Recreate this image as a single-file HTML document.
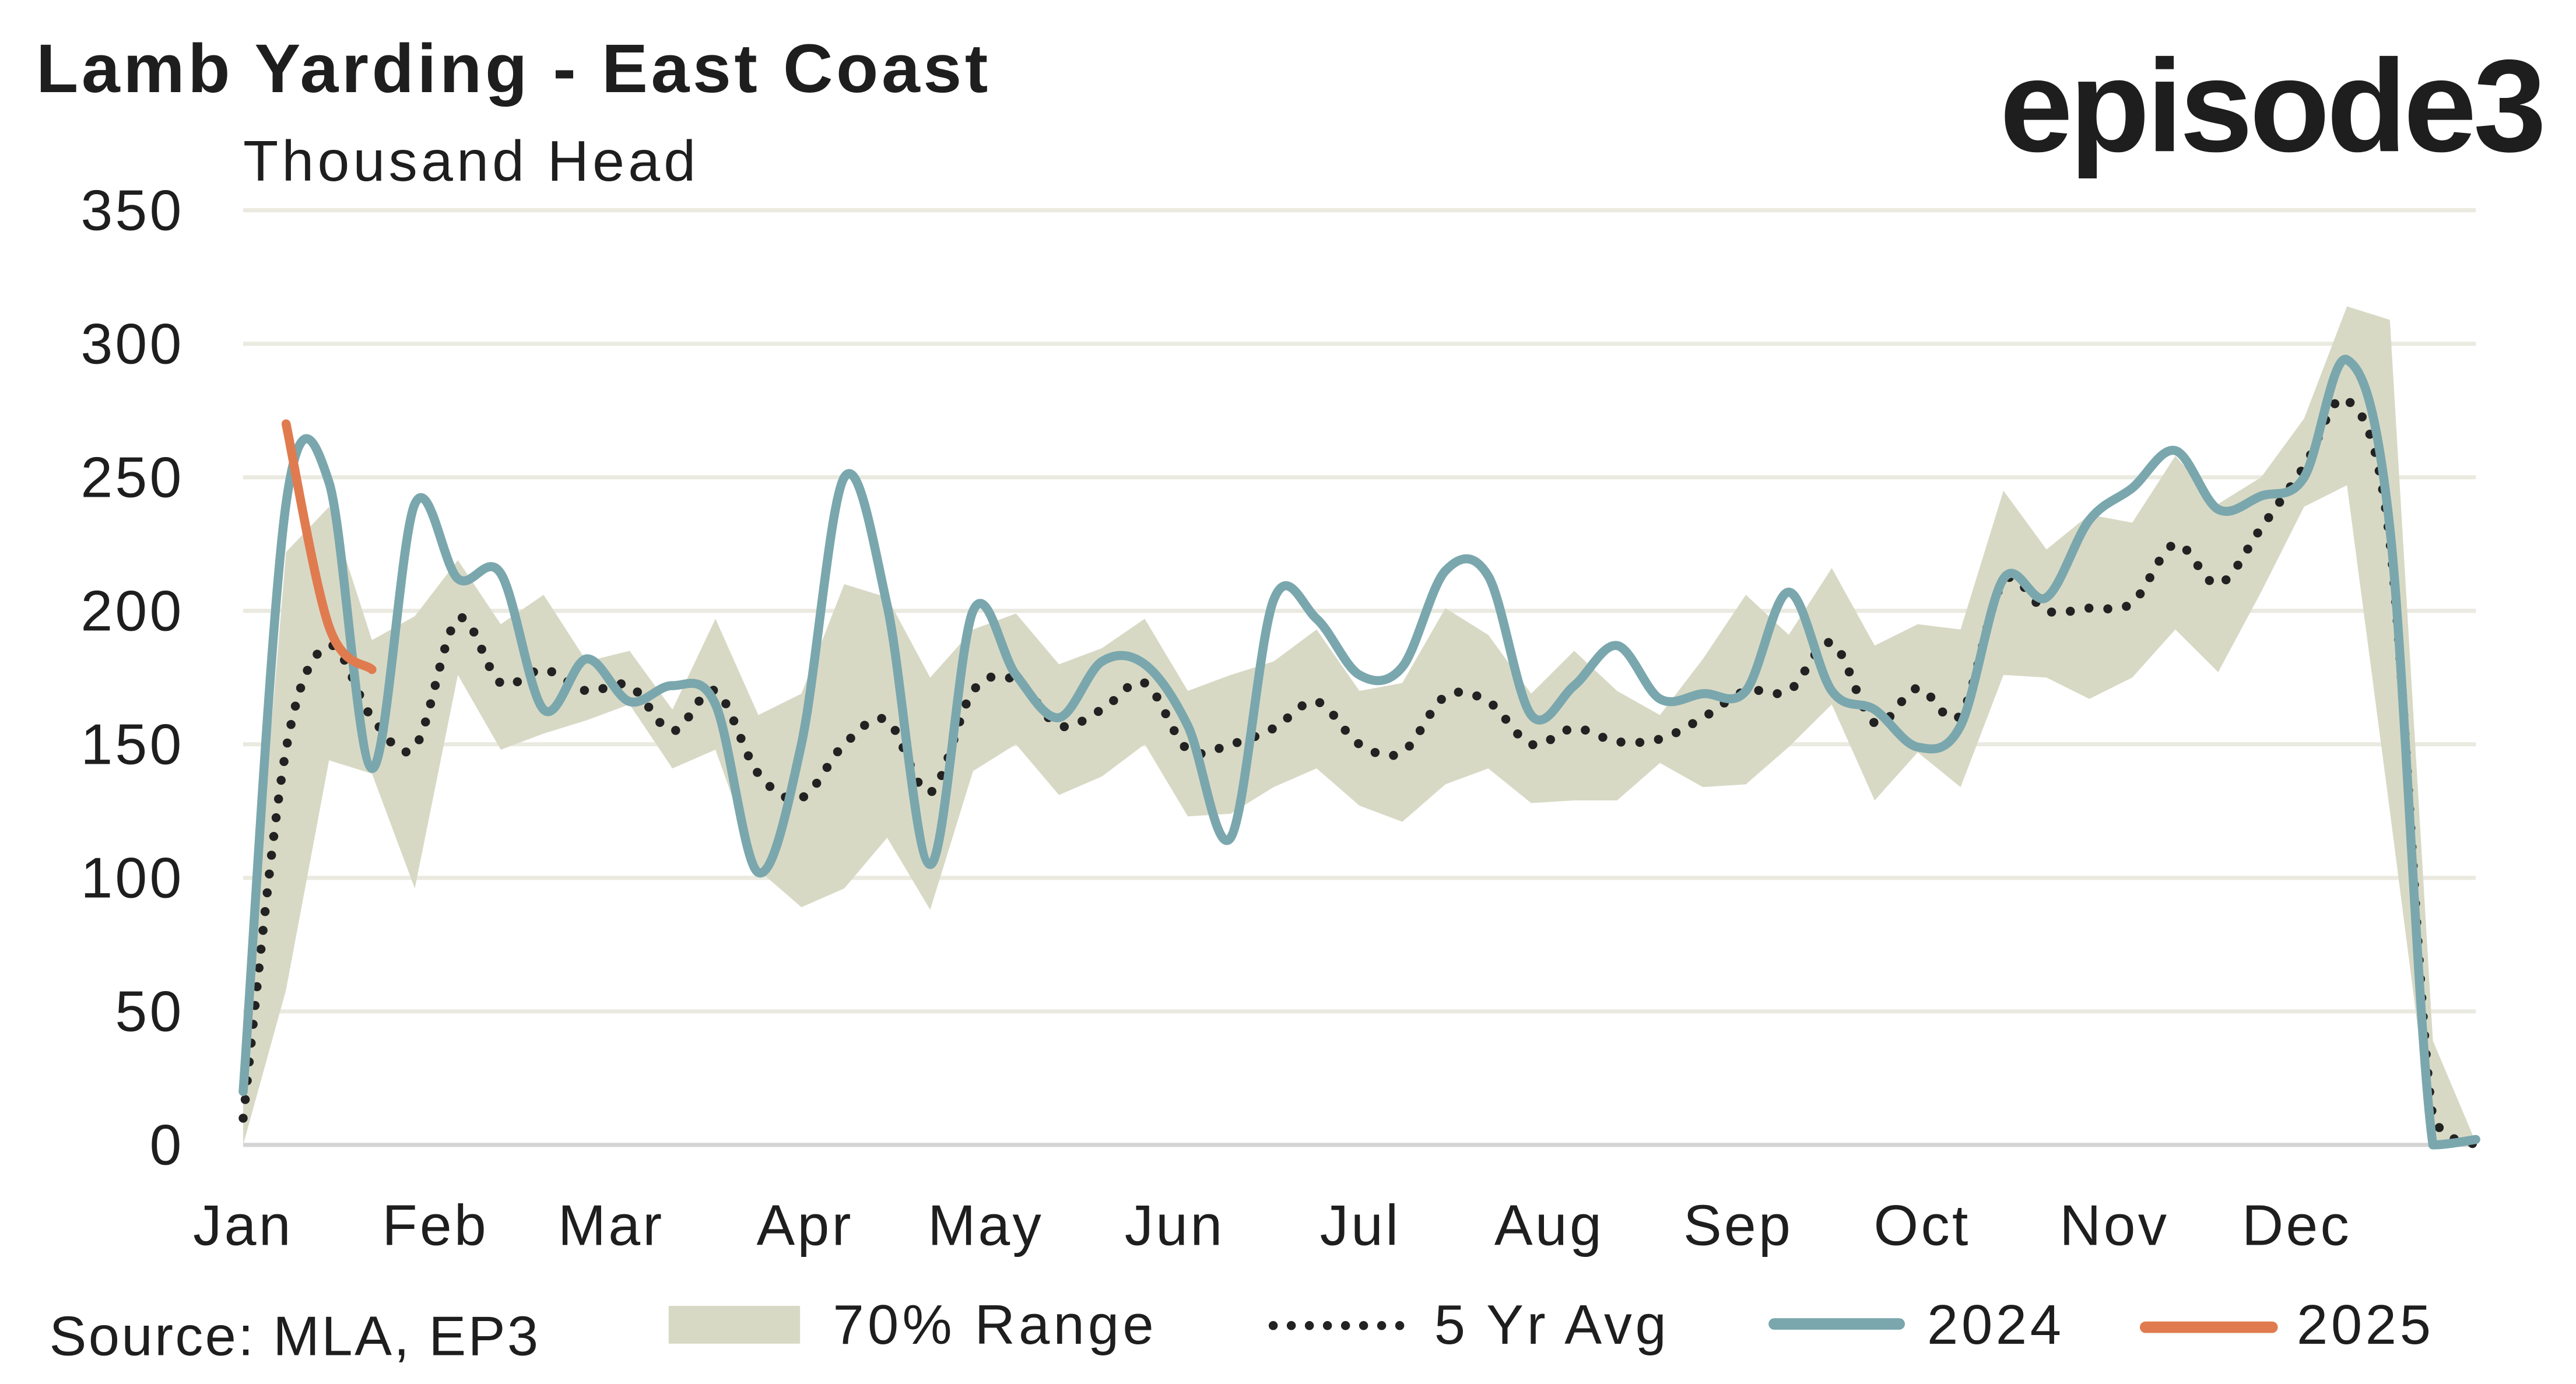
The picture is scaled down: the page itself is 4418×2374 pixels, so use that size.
<!DOCTYPE html>
<html><head><meta charset="utf-8">
<style>
html,body{margin:0;padding:0;background:#fff;}
svg{display:block;}
text{font-family:"Liberation Sans",sans-serif;fill:#1e1e1e;}
</style></head>
<body>
<svg id="chart" width="4418" height="2374" viewBox="0 0 1568 842.56" xmlns="http://www.w3.org/2000/svg">
<text x="22" y="56" font-size="42" font-weight="bold" letter-spacing="2">Lamb Yarding - East Coast</text>
<text x="1548" y="92" font-size="80" font-weight="bold" text-anchor="end" letter-spacing="-2">episode3</text>
<text x="148" y="110" font-size="35" letter-spacing="2.2">Thousand Head</text>
<g id="grid"></g>
<g id="ylabels"></g>
<g id="xlabels"></g>
<g id="series"></g>
<g>
<text x="30" y="825" font-size="34" letter-spacing="1.2">Source: MLA, EP3</text>
<rect x="407" y="795" width="80" height="23" fill="#d8d9c5"/>
<text x="507" y="818" font-size="34" letter-spacing="2.2">70% Range</text>
<line x1="775" y1="807" x2="853" y2="807" stroke="#222" stroke-width="5.5" stroke-linecap="round" stroke-dasharray="0 11"/>
<text x="873" y="818" font-size="34" letter-spacing="2">5 Yr Avg</text>
<line x1="1080" y1="806" x2="1156" y2="806" stroke="#7aa7ad" stroke-width="7" stroke-linecap="round"/>
<text x="1173" y="818" font-size="34" letter-spacing="2">2024</text>
<line x1="1306" y1="808" x2="1383" y2="808" stroke="#e07b50" stroke-width="7" stroke-linecap="round"/>
<text x="1398" y="818" font-size="34" letter-spacing="2">2025</text>
</g>
</svg>
<script>
const months = ["Jan","Feb","Mar","Apr","May","Jun","Jul","Aug","Sep","Oct","Nov","Dec"];
const monthX = [148,265,372,490,600,715,828,943,1058,1170,1287,1398];
const yTicks = [0,50,100,150,200,250,300,350];
const rangeUpper = [30,222,239,189,198,219,195,206,181,185,163,197,161,169,210,205,175,193,199,180,186,197,170,176,181,193,170,173,201,191,169,185,170,161,182,206,191,216,187,195,193,245,223,236,233,258,240,250,272,314,309,39,1];
const rangeLower = [0,58,144,139,96,176,148,154,159,165,141,148,103,89,96,115,88,140,150,131,138,150,123,124,134,141,127,121,135,141,128,129,129,143,134,135,149,165,129,147,134,176,175,167,175,193,177,207,239,247,125,0,0];
const avg5 = [10,148,187,160,149,197,173,178,170,172,155,170,139,130,150,159,132,170,174,157,163,173,148,150,156,166,150,147,168,166,150,156,151,152,160,170,170,188,158,171,161,211,200,201,203,225,210,231,254,279,226,10,0];
const y2024 = [20,240,248,141,240,212,214,163,182,166,172,165,102,150,250,202,105,200,176,160,181,180,157,115,204,197,176,179,215,213,161,172,187,167,169,170,207,170,163,149,157,212,205,234,246,260,238,243,250,294,231,0,2];
const y2025 = [null,270,194,178];

const NS="http://www.w3.org/2000/svg";
const X0=148, X1=1507, Y0=697, Y350=128;
function xs(i){return X0+i*(X1-X0)/52;}
function ys(v){return Y0-(v/350)*(Y0-Y350);}
function mk(tag,attrs,parent){const e=document.createElementNS(NS,tag);for(const k in attrs)e.setAttribute(k,attrs[k]);parent.appendChild(e);return e;}
const grid=document.getElementById('grid'), yl=document.getElementById('ylabels'), xl=document.getElementById('xlabels'), ser=document.getElementById('series');

yTicks.forEach(t=>{
  const l=mk('line',{x1:X0,x2:X1,y1:ys(t),y2:ys(t),stroke:t===0?'#d4d4d4':'#eaeae0','stroke-width':2.5},grid);
  
  
  const tx=mk('text',{x:112,y:ys(t)+12,'font-size':35,'text-anchor':'end','letter-spacing':1.5},yl);
  tx.textContent=t;
  
  
});
months.forEach((m,i)=>{
  const tx=mk('text',{x:monthX[i],y:758,'font-size':35,'text-anchor':'middle','letter-spacing':1.5},xl);
  tx.textContent=m;
  
  
});

let d='';
rangeUpper.forEach((v,i)=>{d+=(i?'L':'M')+xs(i).toFixed(1)+','+ys(v).toFixed(1);});
for(let i=rangeLower.length-1;i>=0;i--){d+='L'+xs(i).toFixed(1)+','+ys(rangeLower[i]).toFixed(1);}
const band=mk('path',{d:d+'Z',fill:'#d8d9c5'},ser);



function smooth(arr){
  const pts=[];arr.forEach((v,i)=>{if(v!==null)pts.push([xs(i),ys(v)]);});
  const cl=y=>Math.min(Y0,y);
  let p='M'+pts[0][0]+','+pts[0][1];
  for(let i=0;i<pts.length-1;i++){
    const a=pts[i-1]||pts[i], b=pts[i], c=pts[i+1], e=pts[i+2]||c;
    const t=1/6;
    p+='C'+(b[0]+(c[0]-a[0])*t).toFixed(1)+','+cl(b[1]+(c[1]-a[1])*t).toFixed(1)+' '+(c[0]-(e[0]-b[0])*t).toFixed(1)+','+cl(c[1]-(e[1]-b[1])*t).toFixed(1)+' '+c[0].toFixed(1)+','+c[1].toFixed(1);
  }
  return p;
}
const a=mk('path',{d:smooth(avg5),fill:'none',stroke:'#222','stroke-width':5.5,'stroke-linecap':'round','stroke-dasharray':'0 11.5'},ser);


const l24=mk('path',{d:smooth(y2024),fill:'none',stroke:'#7aa7ad','stroke-width':5.5,'stroke-linecap':'round','stroke-linejoin':'round'},ser);


const l25=mk('path',{d:smooth(y2025),fill:'none',stroke:'#e07b50','stroke-width':5.5,'stroke-linecap':'round','stroke-linejoin':'round'},ser);


</script>
</body></html>
